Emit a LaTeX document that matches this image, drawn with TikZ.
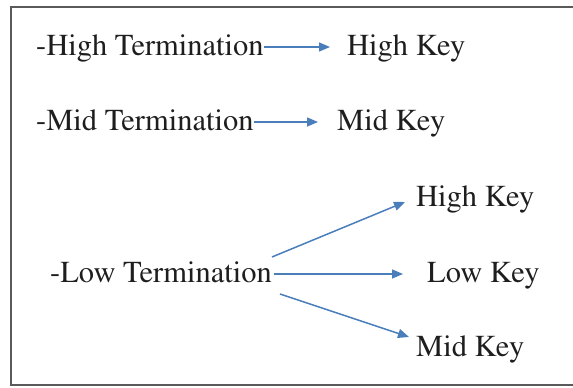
\documentclass[tikz,border=0pt]{standalone}
\usepackage[T1]{fontenc}
\usepackage{mathptmx}
\usetikzlibrary{arrows.meta}
\definecolor{arrblue}{HTML}{4A7EBB}
\definecolor{framegray}{HTML}{5A5A5A}
\definecolor{txt}{HTML}{1E1E1E}
\begin{document}
\begin{tikzpicture}[x=1pt,y=-1pt,
  lbl/.style={anchor=base west,inner sep=0pt,font=\fontsize{30.5}{36}\selectfont,text=txt},
  arr/.style={draw=arrblue,line width=1.5pt,-{Triangle[length=11pt,width=9pt]}}]
\useasboundingbox (0,0) rectangle (573,388);
\draw[framegray,line width=2.2pt] (574,7) -- (11,7) -- (11,385) -- (574,385);
\node[lbl] (ht) at (36,55) {-High Termination};
\node[lbl] (hk1) at (347,55) {High Key};
\node[lbl] (mt) at (36,130) {-Mid Termination};
\node[lbl] (mk1) at (337,130) {Mid Key};
\node[lbl] (lt) at (50,282) {-Low Termination};
\node[lbl] (hk2) at (416,206) {High Key};
\node[lbl] (lk) at (427,282) {Low Key};
\node[lbl] (mk2) at (416,356) {Mid Key};
\draw[arr] ([yshift=8pt]ht.base east) -- ([xshift=-17pt,yshift=8pt]hk1.base west);
\draw[arr] ([yshift=8pt]mt.base east) -- ([xshift=-19pt,yshift=8pt]mk1.base west);
\draw[arr] ([xshift=2pt,yshift=8pt]lt.base east) -- ([xshift=-24pt,yshift=8pt]lk.base west);
\draw[arr] ([xshift=0pt,yshift=25pt]lt.base east) -- ([xshift=-11pt,yshift=4pt]hk2.base west);
\draw[arr] ([xshift=8pt,yshift=-12pt]lt.base east) -- ([xshift=-7pt,yshift=19pt]mk2.base west);
\end{tikzpicture}
\end{document}
